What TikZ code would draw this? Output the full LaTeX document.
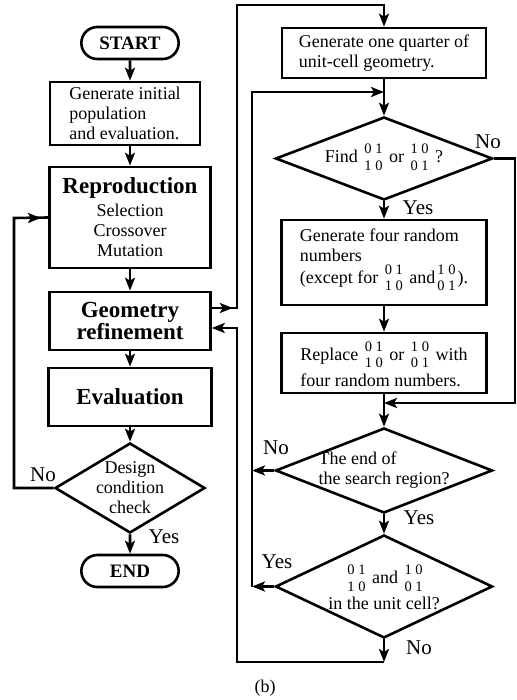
\documentclass[tikz,border=0pt]{standalone}
\usepackage{fontspec}
\setmainfont{Liberation Serif}
\usetikzlibrary{arrows.meta,shapes.geometric,shapes.misc}

% petite matrice 2x2
\newcommand\mtx[2]{\hspace{2pt}\ensuremath{\vcenter{\hbox{\fontsize{14.5}{16.5}\selectfont
    \begin{tabular}{@{}c@{}}#1\\#2\end{tabular}}}}\hspace{2pt}}

\begin{document}
\begin{tikzpicture}[x=1pt,y=-1pt,font=\fontsize{18}{20}\selectfont,
    wire/.style={line width=2.6pt},
    flow/.style={wire,-{Stealth[length=13pt,width=10pt,inset=3pt]}},
    box/.style={draw,wire,align=left,inner sep=0pt},
    term/.style={draw,wire,rounded rectangle,minimum width=104pt,minimum height=32pt,
        font=\fontsize{19}{20}\selectfont\bfseries},
    dia/.style={draw,wire,diamond,inner sep=0pt},
    tag/.style={font=\fontsize{21}{21}\selectfont}]
    \useasboundingbox (0,0) rectangle (516,700);
    % colonne gauche
    \node[term] (start) at (130,43) {START};
    \node[box,minimum width=150pt,minimum height=63pt] (init) at (125,113.5)
        {Generate initial\\population\\and evaluation.};
    \node[box,align=center,minimum width=161pt,minimum height=101pt] (repro) at (130,217.5)
        {{\fontsize{23}{24}\selectfont\bfseries Reproduction}\\[3pt]Selection\\Crossover\\Mutation};
    \node[box,align=center,minimum width=161pt,minimum height=58pt,
        font=\fontsize{23}{20}\selectfont\bfseries] (geom) at (130,321) {Geometry\\refinement};
    \node[box,minimum width=163pt,minimum height=58pt,
        font=\fontsize{23}{20}\selectfont\bfseries] (eval) at (130,397) {Evaluation};
    \node[dia,minimum width=150pt,minimum height=90pt,
        label={[align=center]center:Design\\condition\\check}] (check) at (130,488) {};
    \node[term] (end) at (130,571) {END};
    % colonne droite
    \node[box,minimum width=204pt,minimum height=50pt] (quarter) at (384,53)
        {Generate one quarter of\\unit-cell geometry.};
    \node[dia,minimum width=217pt,minimum height=83pt,
        label={center:{Find \mtx{0 1}{1 0} or \mtx{1 0}{0 1} ?}}] (find) at (384,158.5) {};
    \node[box,minimum width=205pt,minimum height=85pt] (four) at (384,262.5)
        {Generate four random\\numbers\\(except for \mtx{0 1}{1 0} and\mtx{1 0}{0 1}).};
    \node[box,minimum width=205pt,minimum height=60pt] (replace) at (384,363)
        {Replace \mtx{0 1}{1 0} or \mtx{1 0}{0 1} with\\four random numbers.};
    \node[dia,minimum width=217pt,minimum height=85pt,
        label={[align=left]center:The end of\\the search region?}] (endof) at (384,470.5) {};
    \node[dia,minimum width=217pt,minimum height=103pt,
        label={[align=center]center:\mtx{0 1}{1 0} and \mtx{1 0}{0 1}\\in the unit cell?}]
        (cell) at (384,586.5) {};
    % points de passage
    \coordinate (back) at (14,218);
    \coordinate (up) at (237,5);
    \coordinate (side) at (252,92);
    \coordinate (top) at (384,92);
    \coordinate (far) at (515,403);
    \coordinate (join) at (384,403);
    \coordinate (low) at (384,662);
    \coordinate (ret) at (237,662);
    % fleches gauche
    \draw[flow] (start) -- (start |- init.north);
    \draw[flow] (init.south -| repro) -- (repro);
    \draw[flow] (repro) -- (geom);
    \draw[flow] (geom) -- (eval);
    \draw[flow] (eval) -- (check);
    \draw[flow] (check) -- (end);
    \draw[wire] (check.west) -| (back) -- (repro.west);
    \draw[flow] (back) -- ++(27,0);
    % fleches droite
    \draw[flow] ([yshift=13pt]geom.east) -| (up) -| (quarter.north);
    \draw[flow] ([yshift=13pt]geom.east) -- ++(21,0);
    \draw[flow] (quarter) -- (find);
    \draw[flow] (find) -- (four);
    \draw[flow] (four) -- (replace);
    \draw[flow] (replace) -- (endof);
    \draw[flow] (endof) -- (cell);
    \draw[flow] (find.east) -| (far) -- (join);
    \draw[flow] (endof.west) -- (endof.west -| side);
    \draw[flow] (cell.west) -- (cell.west -| side);
    \draw[flow] (cell.west -| side) -- (side) -- (top);
    \draw[flow] (cell.south) -- (low);
    \draw[flow] (low) -- (ret) |- ([yshift=-7pt]geom.east);
    % etiquettes
    \node[tag] (no1) at (488,142) {No};
    \node[tag] (yes1) at (418,208) {Yes};
    \node[tag] (no2) at (276,448) {No};
    \node[tag] (yes2) at (419,518) {Yes};
    \node[tag] (yes3) at (277,562) {Yes};
    \node[tag] (no3) at (419,648) {No};
    \node[tag] (no4) at (43,475) {No};
    \node[tag] (yes4) at (164,537) {Yes};
    \node (cap) at (265,688) {(b)};
\end{tikzpicture}
\end{document}
